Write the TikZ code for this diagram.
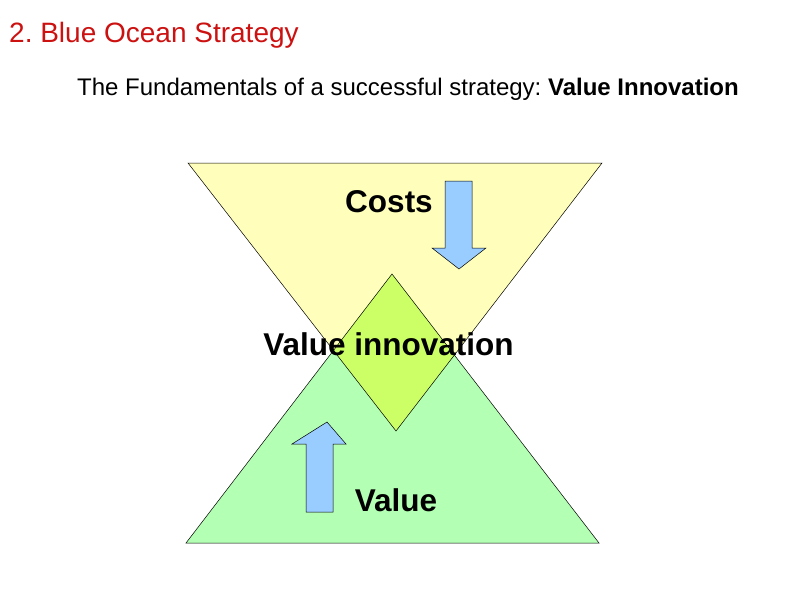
\documentclass[tikz,border=0pt]{standalone}
\usepackage{fontspec}
\setmainfont{Liberation Sans}
\usetikzlibrary{positioning}
\frenchspacing
\definecolor{costyellow}{HTML}{FFFFBB}
\definecolor{valuegreen}{HTML}{B3FFB3}
\definecolor{innogreen}{HTML}{CCFF66}
\definecolor{arrowblue}{HTML}{99CCFF}
\definecolor{titlered}{HTML}{CC1111}

\tikzstyle{bigtext} = [font=\fontsize{31.5}{36}\selectfont\bfseries, inner sep=0pt, anchor=base]
\tikzstyle{blockarrow} = [draw, fill=arrowblue, line width=0.5pt]
\tikzstyle{triangle} = [draw, line width=0.5pt]

\begin{document}
\begin{tikzpicture}[x=1pt, y=-1pt]
    \useasboundingbox (0,0) rectangle (794,595);
    \node [anchor=base west, inner sep=0pt, text=titlered, font=\fontsize{28}{33}\selectfont] (title) at (9,42) {2. Blue Ocean Strategy};
    \node [anchor=base west, inner sep=0pt, font=\fontsize{24}{28}\selectfont] (subtitle) at (77,95) {The Fundamentals of a successful strategy: \textbf{Value Innovation}};

    % the two triangles
    \coordinate (costL) at (188,163);
    \coordinate (costR) at (602,163);
    \coordinate (costTip) at (396,431);
    \coordinate (valL) at (186,543);
    \coordinate (valR) at (599,543);
    \coordinate (valTip) at (392,274);
    \fill [costyellow] (costL) -- (costR) -- (costTip) -- cycle;
    \fill [valuegreen] (valL) -- (valR) -- (valTip) -- cycle;
    \begin{scope}
        \clip (costL) -- (costR) -- (costTip) -- cycle;
        \fill [innogreen] (valL) -- (valR) -- (valTip) -- cycle;
    \end{scope}
    \draw [triangle] (costL) -- (costR) -- (costTip) -- cycle;
    \draw [triangle] (valL) -- (valR) -- (valTip) -- cycle;

    % block arrows
    \draw [blockarrow] (445,181) -- (472,181) -- (472,248) -- (486,248) -- (459,269) -- (432,248) -- (445,248) -- cycle;
    \draw [blockarrow] (327,422) -- (346,444) -- (333,444) -- (333,512) -- (306,512) -- (306,444) -- (292,444) -- cycle;

    \node [bigtext] (costs) at (389,212) {Costs};
    \node [bigtext] (innovation) at (388.5,355) {Value innovation};
    \node [bigtext] (value) at (396,511) {Value};
\end{tikzpicture}
\end{document}
